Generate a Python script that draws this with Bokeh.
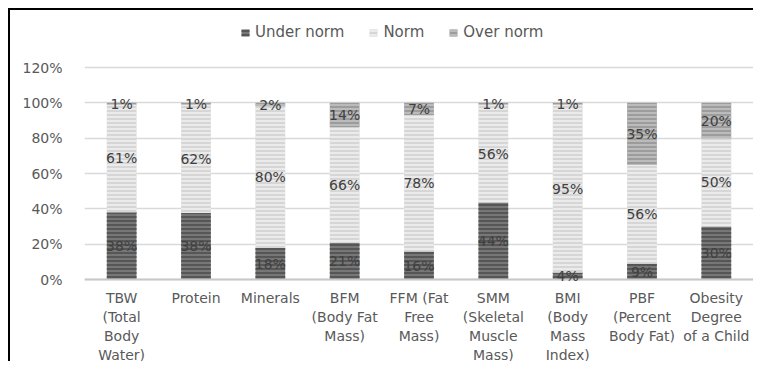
from bokeh.plotting import figure
from bokeh.models import (ColumnDataSource, Legend, LegendItem, Range1d, NumeralTickFormatter,
                          FixedTicker, LabelSet, Span)
from bokeh.core.properties import value
from bokeh.embed import file_html
from bokeh.resources import INLINE

categories = ["TBW", "Protein", "Minerals", "BFM", "FFM", "SMM", "BMI", "PBF", "Obesity"]
category_labels = [
    "TBW\n(Total\nBody\nWater)", "Protein", "Minerals", "BFM\n(Body Fat\nMass)",
    "FFM (Fat\nFree\nMass)", "SMM\n(Skeletal\nMuscle\nMass)", "BMI\n(Body\nMass\nIndex)",
    "PBF\n(Percent\nBody Fat)", "Obesity\nDegree\nof a Child",
]
series_names = ["Under norm", "Norm", "Over norm"]
under = [38, 38, 18, 21, 16, 44, 4, 9, 30]
norm = [61, 62, 80, 66, 78, 56, 95, 56, 50]
over = [1, 1, 2, 14, 7, 1, 1, 35, 20]
y_ticks = [0, 0.2, 0.4, 0.6, 0.8, 1.0, 1.2]

totals = [u + n + o for u, n, o in zip(under, norm, over)]
su = [u / t for u, t in zip(under, totals)]
sn = [n / t for n, t in zip(norm, totals)]
so = [o / t for o, t in zip(over, totals)]

src = ColumnDataSource(dict(cat=categories, under=su, norm=sn, over=so))

FONT = "DejaVu Sans"
TXT = "#595959"

# frame spans the whole height; axis area (0..120%) occupies 212 px of it
PX_PER_UNIT = 212 / 1.2
FRAME_H = 353
ABOVE_ZERO = 269
y_lo = -(FRAME_H - ABOVE_ZERO) / PX_PER_UNIT
y_hi = ABOVE_ZERO / PX_PER_UNIT

p = figure(x_range=categories, y_range=Range1d(y_lo, y_hi), width=745, height=353,
           output_backend="svg", toolbar_location=None,
           min_border_left=74, min_border_right=2, min_border_top=0, min_border_bottom=0)
p.outline_line_color = None
p.background_fill_color = "white"
p.border_fill_color = "white"
p.styles = {"border-left": "2px solid black", "border-top": "2px solid black",
            "margin-left": "8px", "margin-top": "8px"}

fills = ["#777777", "#d6d6d6", "#9c9c9c"]
hatches = ["#4a4a4a", "#f2f2f2", "#c6c6c6"]
rs = p.vbar_stack(["under", "norm", "over"], x="cat", width=0.4, source=src,
                  fill_color=fills, hatch_color=hatches, hatch_pattern="horizontal_line",
                  hatch_scale=4, hatch_weight=1.5, line_color=None)

p.add_layout(Span(location=0, dimension="width", line_color="#c8c8c8", line_width=2))

# data labels
lab_x, lab_y, lab_t = [], [], []
for c, u, n, o, ru, rn, ro in zip(categories, su, sn, so, under, norm, over):
    lab_x += [c, c, c]
    lab_y += [u / 2, u + n / 2, u + n + o / 2]
    lab_t += [f"{ru}%", f"{rn}%", f"{ro}%"]
lsrc = ColumnDataSource(dict(x=lab_x, y=lab_y, t=lab_t))
labels = LabelSet(x="x", y="y", text="t", source=lsrc, text_align="center",
                  text_baseline="middle", text_font=value(FONT), text_font_size="14px",
                  text_color="#404040")
p.add_layout(labels)

# category labels, one line each, below the axis
cx, cy, ct, co = [], [], [], []
for c, lbl in zip(categories, category_labels):
    for i, line in enumerate(lbl.split("\n")):
        cx.append(c)
        cy.append(0)
        ct.append(line)
        co.append(-18 - 19 * i)
csrc = ColumnDataSource(dict(x=cx, y=cy, t=ct, o=co))
cat_labels = LabelSet(x="x", y="y", text="t", y_offset="o", source=csrc, text_align="center",
                      text_baseline="middle", text_font=value(FONT), text_font_size="14px",
                      text_color=TXT)
p.add_layout(cat_labels)

p.yaxis.ticker = FixedTicker(ticks=y_ticks)
p.yaxis.formatter = NumeralTickFormatter(format="0%")
p.yaxis.axis_line_color = None
p.yaxis.major_tick_line_color = None
p.yaxis.minor_tick_line_color = None
p.yaxis.major_label_text_font = FONT
p.yaxis.major_label_text_font_size = "14px"
p.yaxis.major_label_text_color = TXT
p.yaxis.major_label_standoff = 16

p.xaxis.visible = False

p.xgrid.grid_line_color = None
p.ygrid.grid_line_color = "#d9d9d9"
p.ygrid.grid_line_width = 1.5

legend = Legend(items=[LegendItem(label=n, renderers=[r]) for n, r in zip(series_names, rs)],
                orientation="horizontal", location=(156, 322))
legend.label_text_font = FONT
legend.label_text_font_size = "15px"
legend.label_text_color = TXT
legend.glyph_width = 10
legend.glyph_height = 9
legend.spacing = 24
legend.label_standoff = 5
legend.border_line_color = None
legend.background_fill_alpha = 0
legend.margin = 0
legend.padding = 8
p.add_layout(legend)

open("out.html", "w").write(file_html(p, INLINE))
